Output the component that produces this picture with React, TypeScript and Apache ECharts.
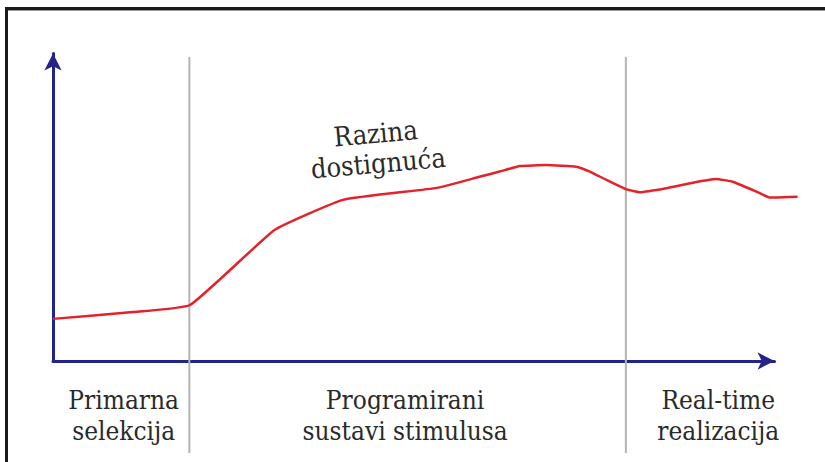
import React, { useEffect, useRef } from "react";
import * as echarts from "echarts";

// Achievement curve (x: time units 0..100 along the axis, y: level 0..100)
const curveT = [0, 11.1, 19.0, 30.7, 40.2, 53.2, 59.1, 61.9, 64.7, 68.4, 72.5, 74.4, 76.7, 79.5, 81.3, 85.0, 88.7, 91.9, 94.2, 97.0, 99.3, 103.2];
const curveV = [13.7, 15.9, 18.2, 42.6, 52.4, 56.3, 59.9, 61.6, 63.4, 63.7, 63.2, 61.6, 58.9, 55.8, 54.9, 56.2, 58.0, 59.2, 58.3, 55.6, 53.2, 53.4];

// Phase boundaries and labels
const boundaryT = [18.9, 79.4];
const boundaryTop = 98.9;
const boundaryBottom = -29.9;
const phaseLabels = ["Primarna\nselekcija", "Programirani\nsustavi stimulusa", "Real-time\nrealizacija"];
const phaseCenterT = [9.8, 48.8, 92.2];
const phaseLabelV = -7.6;

// Curve annotation
const curveLabel = "Razina\ndostignuća";
const curveLabelT = 44.9;
const curveLabelV = 69.2;

const AXIS = "#23238a";
const RED = "#e3222a";
const GRAY = "#b4b4b4";
const TEXT = "#2a2a2a";
const FONT = "DejaVu Serif Condensed";

export default function App() {
  const ref = useRef<HTMLDivElement>(null);
  useEffect(() => {
    document.body.style.margin = "0";
    const chart = echarts.init(ref.current!, null, { renderer: "svg" });
    const lineData = curveT.map((t, i) => [t, curveV[i]]);
    chart.setOption({
      animation: false,
      backgroundColor: "#ffffff",
      grid: { left: 53, right: 50.5, top: 53.5, bottom: 101 },
      xAxis: {
        type: "value",
        min: 0,
        max: 100,
        axisLine: {
          show: true,
          symbol: ["none", "arrow"],
          symbolSize: [13, 17],
          lineStyle: { color: AXIS, width: 3 },
        },
        axisTick: { show: false },
        axisLabel: { show: false },
        splitLine: { show: false },
      },
      yAxis: {
        type: "value",
        min: 0,
        max: 100,
        axisLine: {
          show: true,
          symbol: ["none", "arrow"],
          symbolSize: [13, 17],
          lineStyle: { color: AXIS, width: 3 },
        },
        axisTick: { show: false },
        axisLabel: { show: false },
        splitLine: { show: false },
      },
      series: [
        {
          type: "custom",
          clip: false,
          z: 1,
          data: boundaryT.map((t) => [t]),
          renderItem: (params: any, api: any) => {
            const t = api.value(0);
            const p1 = api.coord([t, boundaryTop]);
            const p2 = api.coord([t, boundaryBottom]);
            return {
              type: "line",
              shape: { x1: p1[0], y1: p1[1], x2: p2[0], y2: p2[1] },
              style: { stroke: GRAY, lineWidth: 2 },
            };
          },
        },
        {
          type: "custom",
          clip: false,
          z: 3,
          data: [[curveLabelT, curveLabelV]],
          renderItem: (params: any, api: any) => {
            const p = api.coord([api.value(0), api.value(1)]);
            return {
              type: "text",
              x: p[0],
              y: p[1],
              rotation: 0.087,
              style: {
                text: curveLabel,
                fill: TEXT,
                font: `27px ${FONT}`,
                lineHeight: 30,
                align: "center",
                verticalAlign: "middle",
              },
            };
          },
        },
        {
          type: "custom",
          clip: false,
          z: 3,
          data: phaseCenterT.map((t, i) => [t, phaseLabelV, i]),
          renderItem: (params: any, api: any) => {
            const p = api.coord([api.value(0), api.value(1)]);
            const idx = api.value(2);
            return {
              type: "text",
              x: p[0],
              y: p[1],
              style: {
                text: phaseLabels[idx],
                fill: TEXT,
                font: `26px ${FONT}`,
                lineHeight: 31,
                align: "center",
                verticalAlign: "top",
              },
            };
          },
        },
        {
          type: "custom",
          clip: false,
          z: 2,
          data: lineData,
          renderItem: (params: any, api: any) => {
            if (params.dataIndex !== 0) return null;
            const pts = lineData.map((d) => api.coord(d));
            return {
              type: "polyline",
              shape: { points: pts, smooth: 0.12 },
              style: { stroke: RED, lineWidth: 2.5, fill: "none", lineJoin: "round" },
            };
          },
        },
      ],
      graphic: [
        { type: "line", shape: { x1: 6.5, y1: 8, x2: 6.5, y2: 462 }, style: { stroke: "#1a1a1a", lineWidth: 3 } },
        { type: "line", shape: { x1: 5, y1: 8.5, x2: 825, y2: 8.5 }, style: { stroke: "#1a1a1a", lineWidth: 3 } },
        { type: "line", shape: { x1: 8, y1: 10.5, x2: 825, y2: 10.5 }, style: { stroke: "#9a9a9a", lineWidth: 1 } },
      ],
    });
    return () => chart.dispose();
  }, []);
  return (
    <div
      ref={ref}
      style={{ position: "fixed", left: 0, top: 0, width: 825, height: 462 }}
    />
  );
}
